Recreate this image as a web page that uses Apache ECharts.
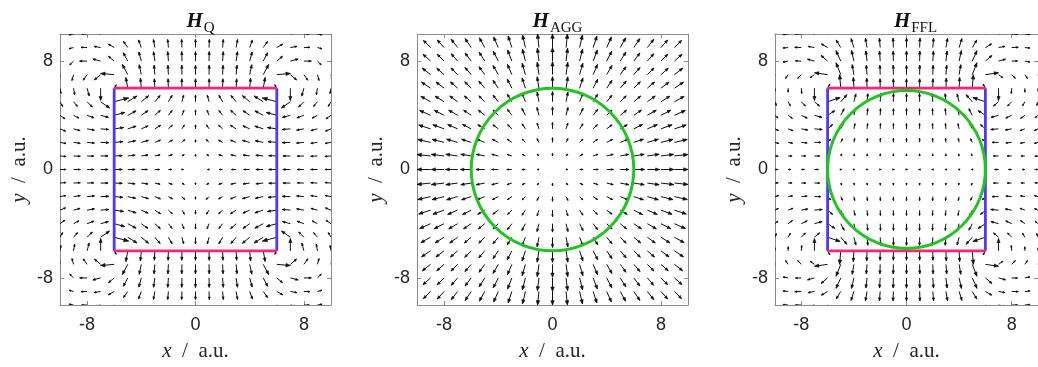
<!DOCTYPE html>
<html>
<head>
<meta charset="utf-8">
<script src="https://cdn.jsdelivr.net/npm/echarts@6/dist/echarts.min.js"></script>
<style>
  html, body { margin: 0; padding: 0; background: #fff; }
  #chart { width: 1038px; height: 367px; }
</style>
</head>
<body>
<div id="chart"></div>
<script>
// Sample grid of one quadrant (x <= 0, y >= 0); the other three quadrants follow by symmetry.
const gridCols = [-10, -9, -8, -7, -6, -5, -4, -3, -2, -1, 0];
const gridRows = [10, 9, 8, 7, 6, 5, 4, 3, 2, 1, 0];

// H_Q: arrow direction (degrees, counter-clockwise from +x) and arrow length (axis units)
const qAngle = [
  [200, 190, 180, 170, 150, 125, 110, 100, 95, 92, 90],
  [210, 195, 178, 170, 150, 125, 110, 100, 95, 92, 90],
  [235, 225, 180, 165, 140, 118, 105, 98, 94, 91, 90],
  [260, 255, 235, 220, 175, 118, 102, 95, 93, 91, 90],
  [280, 280, 285, 270, 60, 100, 95, 93, 92, 91, 90],
  [300, 310, 315, 325, 15, 32, 40, 50, 60, 75, 90],
  [325, 332, 340, 345, 15, 28, 35, 42, 52, 68, 90],
  [338, 345, 350, 355, 8, 18, 24, 32, 42, 58, 90],
  [350, 352, 355, 358, 5, 12, 16, 22, 30, 45, 90],
  [355, 357, 358, 0, 2, 6, 8, 12, 18, 30, 90],
  [0, 0, 0, 0, 0, 0, 0, 0, 0, 0, 0]
];
const qLength = [
  [0.35, 0.35, 0.40, 0.45, 0.50, 0.55, 0.55, 0.55, 0.55, 0.55, 0.55],
  [0.35, 0.35, 0.45, 0.50, 0.50, 0.55, 0.60, 0.60, 0.60, 0.60, 0.60],
  [0.35, 0.40, 0.55, 0.60, 0.55, 0.70, 0.70, 0.70, 0.70, 0.70, 0.70],
  [0.40, 0.45, 0.50, 0.60, 1.00, 0.85, 0.75, 0.70, 0.70, 0.70, 0.70],
  [0.40, 0.50, 0.60, 0.90, 0.30, 0.80, 0.75, 0.70, 0.70, 0.70, 0.70],
  [0.40, 0.45, 0.55, 0.80, 1.10, 0.80, 0.70, 0.60, 0.55, 0.50, 0.50],
  [0.45, 0.45, 0.55, 0.60, 0.80, 0.70, 0.60, 0.55, 0.45, 0.40, 0.40],
  [0.45, 0.50, 0.55, 0.60, 0.70, 0.65, 0.55, 0.50, 0.40, 0.35, 0.30],
  [0.45, 0.50, 0.55, 0.60, 0.65, 0.60, 0.55, 0.45, 0.35, 0.30, 0.20],
  [0.45, 0.50, 0.50, 0.55, 0.60, 0.55, 0.50, 0.40, 0.30, 0.20, 0.12],
  [0.45, 0.50, 0.50, 0.55, 0.60, 0.55, 0.45, 0.35, 0.25, 0.12, 0]
];

// H_AGG
const aggAngle = [
  [135, 132, 129, 125, 121, 117, 112, 107, 101, 96, 90],
  [138, 135, 132, 128, 124, 119, 114, 108, 103, 96, 90],
  [141, 138, 135, 131, 127, 122, 117, 111, 104, 97, 90],
  [145, 142, 139, 135, 131, 126, 120, 113, 106, 98, 90],
  [149, 146, 143, 139, 135, 130, 124, 117, 108, 99, 90],
  [153, 151, 148, 144, 140, 135, 129, 121, 112, 101, 90],
  [158, 156, 153, 150, 146, 141, 135, 127, 117, 104, 90],
  [163, 162, 160, 157, 153, 149, 143, 135, 124, 108, 90],
  [169, 167, 166, 164, 162, 158, 153, 146, 135, 117, 90],
  [174, 174, 173, 172, 171, 169, 166, 162, 153, 135, 90],
  [180, 180, 180, 180, 180, 180, 180, 180, 180, 180, 0]
];
const aggLength = [
  [0.75, 0.75, 0.75, 0.78, 0.80, 0.82, 0.85, 0.90, 0.95, 1.00, 1.00],
  [0.75, 0.75, 0.75, 0.77, 0.80, 0.82, 0.85, 0.90, 0.95, 1.00, 1.00],
  [0.78, 0.75, 0.72, 0.72, 0.75, 0.78, 0.82, 0.88, 0.92, 0.95, 1.00],
  [0.80, 0.77, 0.72, 0.70, 0.70, 0.72, 0.78, 0.82, 0.88, 0.92, 0.95],
  [0.82, 0.80, 0.75, 0.70, 0.68, 0.68, 0.70, 0.75, 0.80, 0.85, 0.85],
  [0.85, 0.82, 0.78, 0.72, 0.66, 0.62, 0.62, 0.65, 0.70, 0.72, 0.75],
  [0.90, 0.88, 0.82, 0.76, 0.68, 0.60, 0.55, 0.55, 0.58, 0.60, 0.62],
  [0.95, 0.92, 0.88, 0.80, 0.72, 0.60, 0.50, 0.45, 0.45, 0.45, 0.48],
  [1.00, 0.97, 0.92, 0.85, 0.75, 0.62, 0.50, 0.40, 0.35, 0.32, 0.35],
  [1.00, 1.00, 0.95, 0.88, 0.78, 0.64, 0.50, 0.38, 0.28, 0.20, 0.20],
  [1.00, 1.00, 0.95, 0.90, 0.80, 0.65, 0.50, 0.38, 0.26, 0.14, 0]
];

// H_FFL
const fflAngle = [
  [190, 185, 180, 170, 150, 125, 110, 100, 95, 92, 90],
  [195, 185, 178, 170, 150, 122, 108, 100, 95, 92, 90],
  [215, 190, 178, 165, 140, 115, 103, 97, 94, 91, 90],
  [250, 235, 225, 215, 172, 112, 100, 95, 92, 91, 90],
  [265, 270, 275, 270, 60, 95, 93, 92, 91, 90, 90],
  [290, 300, 315, 320, 18, 48, 75, 84, 87, 89, 90],
  [320, 325, 335, 345, 32, 62, 78, 84, 87, 89, 90],
  [335, 340, 350, 355, 40, 65, 78, 84, 87, 89, 90],
  [345, 350, 355, 0, 45, 65, 78, 84, 87, 89, 90],
  [355, 358, 0, 0, 40, 62, 76, 83, 86, 88, 90],
  [0, 0, 0, 0, 0, 0, 0, 0, 0, 0, 0]
];
const fflLength = [
  [0.35, 0.40, 0.45, 0.50, 0.55, 0.60, 0.65, 0.65, 0.65, 0.65, 0.65],
  [0.35, 0.40, 0.50, 0.50, 0.55, 0.65, 0.70, 0.70, 0.70, 0.70, 0.70],
  [0.30, 0.40, 0.45, 0.55, 0.65, 0.85, 0.80, 0.75, 0.75, 0.75, 0.75],
  [0.30, 0.35, 0.40, 0.40, 1.00, 0.95, 0.75, 0.70, 0.70, 0.70, 0.70],
  [0.25, 0.30, 0.40, 0.90, 0.35, 1.00, 0.80, 0.75, 0.70, 0.70, 0.70],
  [0.30, 0.35, 0.45, 0.50, 1.00, 0.70, 0.60, 0.60, 0.60, 0.60, 0.60],
  [0.30, 0.40, 0.50, 0.60, 0.65, 0.55, 0.50, 0.50, 0.50, 0.50, 0.50],
  [0.30, 0.40, 0.50, 0.60, 0.50, 0.45, 0.40, 0.40, 0.40, 0.40, 0.40],
  [0.30, 0.35, 0.45, 0.50, 0.35, 0.30, 0.30, 0.30, 0.30, 0.30, 0.30],
  [0.25, 0.30, 0.35, 0.40, 0.20, 0.18, 0.16, 0.16, 0.16, 0.16, 0.16],
  [0.20, 0.22, 0.25, 0.30, 0.10, 0.08, 0.08, 0.08, 0.08, 0.08, 0.08]
];

const coilHalf = 6;        // half side of the square coil outline
const circleRadius = 6;    // radius of the green circle
const tickValues = [-8, 0, 8];
const axisRange = [-10, 10];

const panels = [
  { sub: 'Q',   angle: qAngle,   length: qLength,   coil: true,  circle: false, left: 60 },
  { sub: 'AGG', angle: aggAngle, length: aggLength, coil: false, circle: true,  left: 417 },
  { sub: 'FFL', angle: fflAngle, length: fflLength, coil: true,  circle: true,  left: 775 }
];

const PANEL_W = 271, PANEL_H = 272, PANEL_TOP = 34;
const axisGray = '#8c8c8c';
const labelColor = '#262626';
const arrowColor = '#111111';
const pink = '#ff2277';
const blue = '#5236ff';
const green = '#22c422';

// Expand one quadrant to the full field using the mirror symmetries (Hx odd in x, Hy odd in y).
function buildField(angle, length) {
  const out = [];
  gridRows.forEach((y, i) => {
    gridCols.forEach((x, j) => {
      const t = angle[i][j], L = length[i][j];
      const put = (px, py, deg) => {
        const r = deg * Math.PI / 180;
        out.push([px, py, L * Math.cos(r), L * Math.sin(r)]);
      };
      put(x, y, t);
      if (x !== 0) put(-x, y, 180 - t);
      if (y !== 0) put(x, -y, -t);
      if (x !== 0 && y !== 0) put(-x, -y, 180 + t);
    });
  });
  return out;
}

// Quiver arrow: shaft from the sample point plus a small head at the tip.
function renderArrow(params, api) {
  const x = api.value(0), y = api.value(1), u = api.value(2), v = api.value(3);
  const a = api.coord([x, y]);
  const b = api.coord([x + u, y + v]);
  const dx = b[0] - a[0], dy = b[1] - a[1];
  const len = Math.hypot(dx, dy);
  if (len < 0.4) return;
  const ux = dx / len, uy = dy / len;
  const hl = Math.max(1.8, len * 0.32), hw = hl * 0.4;
  const bx = b[0] - ux * hl, by = b[1] - uy * hl;
  return {
    type: 'group',
    children: [
      { type: 'line', shape: { x1: a[0], y1: a[1], x2: b[0], y2: b[1] },
        style: { stroke: arrowColor, lineWidth: 1 } },
      { type: 'polygon', shape: { points: [[bx - uy * hw, by + ux * hw], [b[0], b[1]], [bx + uy * hw, by - ux * hw]] },
        style: { stroke: arrowColor, lineWidth: 0.6, fill: arrowColor } }
    ]
  };
}

function renderCircle(params, api) {
  const c = api.coord([api.value(0), api.value(1)]);
  const r = api.size([api.value(2), 0])[0];
  return {
    type: 'circle',
    shape: { cx: c[0], cy: c[1], r },
    style: { fill: null, stroke: green, lineWidth: 3 }
  };
}

const grids = [], xAxes = [], yAxes = [], series = [], titles = [];

const tickCommon = { inside: true, length: 4, customValues: tickValues, lineStyle: { color: axisGray, width: 1 } };
const lineCommon = { onZero: false, lineStyle: { color: axisGray, width: 1 } };
const nameRich = {
  i: { fontFamily: 'Liberation Serif', fontStyle: 'italic', fontSize: 21, color: labelColor },
  r: { fontFamily: 'Liberation Serif', fontSize: 21, color: labelColor }
};

panels.forEach((p, k) => {
  grids.push({ left: p.left, top: PANEL_TOP, width: PANEL_W, height: PANEL_H, containLabel: false });
  xAxes.push({
    gridIndex: k, type: 'value', min: axisRange[0], max: axisRange[1], position: 'bottom',
    axisLine: lineCommon, axisTick: tickCommon, splitLine: { show: false },
    axisLabel: { customValues: tickValues, margin: 11, fontFamily: 'Liberation Sans', fontSize: 18, color: labelColor },
    name: '{i|x}{r|  /  a.u.}', nameLocation: 'middle', nameGap: 36, nameTextStyle: { rich: nameRich }
  });
  xAxes.push({
    gridIndex: k, type: 'value', min: axisRange[0], max: axisRange[1], position: 'top',
    axisLine: lineCommon, axisTick: tickCommon, splitLine: { show: false }, axisLabel: { show: false }
  });
  yAxes.push({
    gridIndex: k, type: 'value', min: axisRange[0], max: axisRange[1], position: 'left',
    axisLine: lineCommon, axisTick: tickCommon, splitLine: { show: false },
    axisLabel: { customValues: tickValues, margin: 7, fontFamily: 'Liberation Sans', fontSize: 18, color: labelColor },
    name: '{i|y}{r|  /  a.u.}', nameLocation: 'middle', nameGap: 30, nameTextStyle: { rich: nameRich }
  });
  yAxes.push({
    gridIndex: k, type: 'value', min: axisRange[0], max: axisRange[1], position: 'right',
    axisLine: lineCommon, axisTick: tickCommon, splitLine: { show: false }, axisLabel: { show: false }
  });

  const xi = 2 * k, yi = 2 * k;
  series.push({
    type: 'custom', xAxisIndex: xi, yAxisIndex: yi, clip: true, z: 2,
    renderItem: renderArrow, data: buildField(p.angle, p.length),
    encode: { x: 0, y: 1 }, silent: true
  });
  if (p.coil) {
    const c = coilHalf;
    [[[-c, -c], [-c, c]], [[c, -c], [c, c]]].forEach(seg => series.push({
      type: 'line', xAxisIndex: xi, yAxisIndex: yi, data: seg, symbol: 'none', z: 3, silent: true,
      lineStyle: { color: blue, width: 2.8 }
    }));
    [[[-c, c], [c, c]], [[-c, -c], [c, -c]]].forEach(seg => series.push({
      type: 'line', xAxisIndex: xi, yAxisIndex: yi, data: seg, symbol: 'none', z: 4, silent: true,
      lineStyle: { color: pink, width: 2.8 }
    }));
  }
  if (p.circle) {
    series.push({
      type: 'custom', xAxisIndex: xi, yAxisIndex: yi, z: 5, silent: true,
      renderItem: renderCircle, data: [[0, 0, circleRadius]], encode: { x: 0, y: 1 }
    });
  }

  titles.push({
    text: '{h|H}{s|' + p.sub + '}',
    left: p.left + PANEL_W / 2, top: 6, textAlign: 'center',
    textStyle: {
      rich: {
        h: { fontFamily: 'Liberation Serif', fontWeight: 'bold', fontStyle: 'italic', fontSize: 21, color: '#111', verticalAlign: 'bottom', padding: [0, 1, 4, 0] },
        s: { fontFamily: 'Liberation Serif', fontWeight: 'normal', fontStyle: 'normal', fontSize: 15, color: '#111', verticalAlign: 'bottom' }
      }
    }
  });
});

const chart = echarts.init(document.getElementById('chart'), null, { renderer: 'canvas' });
chart.setOption({
  animation: false,
  backgroundColor: '#fff',
  title: titles,
  grid: grids,
  xAxis: xAxes,
  yAxis: yAxes,
  series
});
</script>
</body>
</html>
